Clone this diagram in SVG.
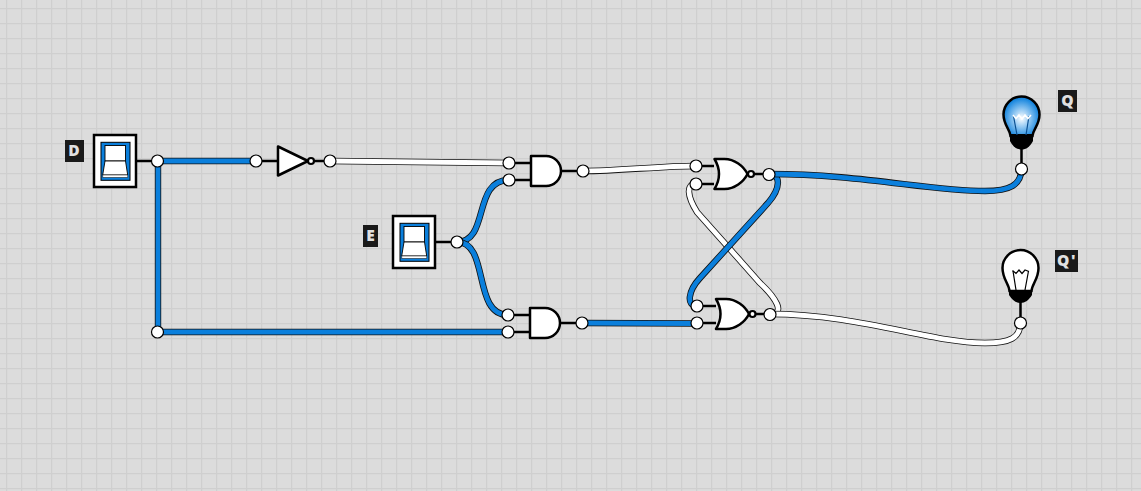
<svg xmlns="http://www.w3.org/2000/svg" width="1141" height="491" viewBox="0 0 1141 491">
<style>
.w{fill:none;stroke:#111;stroke-width:6.4;stroke-linecap:round}
.b{fill:none;stroke:#0a7fdc;stroke-width:4.8;stroke-linecap:round}
.o{fill:none;stroke:#fff;stroke-width:4.8;stroke-linecap:round}
.l{fill:none;stroke:#000;stroke-width:2.5}
.p{fill:#fff;stroke:#000;stroke-width:1.2}
.g{fill:#fff;stroke:#000;stroke-width:2.5;stroke-linejoin:round}
.lb{fill:#1a1a1a}
.t{font-family:"Open Sans",sans-serif;font-weight:800;font-size:15.500px;fill:#e0e0e0;text-anchor:middle}
.sw{fill:#fff;stroke:#000;stroke-width:2.5}
.si{fill:#0a7fdc;stroke:#000;stroke-width:1}
.sk{fill:#fff;stroke:#000;stroke-width:.9}
</style>
<defs>
<pattern id="grid" width="15" height="15" patternUnits="userSpaceOnUse" x="6" y="8">
<path d="M0.5 0V15M0 0.500H15" fill="none" stroke="#cfcfcf" stroke-width="1.500"/>
</pattern>
<radialGradient id="glow" cx="0.5" cy="0.55" r="0.62">
<stop offset="0" stop-color="#ffffff"/><stop offset="0.3" stop-color="#a5d2f5"/><stop offset="0.85" stop-color="#0a7fdc"/>
</radialGradient>
<g id="switch">
<rect class="sw" x="0" y="0" width="42" height="52"/>
<rect class="si" x="7" y="7.300" width="29" height="38"/>
<rect class="sk" x="11" y="10.500" width="20.500" height="15.500"/>
<path class="sk" d="M11 26H31.500L33.700 40H8.700Z"/>
<path class="sk" d="M8.700 40H33.700V42.500H8.700Z" style="stroke-width:.5"/>
</g>
<g id="and">
<path class="g" d="M0 0H15A15 15 0 0 1 15 30H0Z"/>
</g>
<g id="nor">
<path class="g" d="M0 0H10C20 0 29 7 33 15C29 23 20 30 10 30H0C6 20 6 10 0 0Z"/>
<circle cx="36.500" cy="15" r="3" fill="#fff" stroke="#000" stroke-width="2.200"/>
</g>
<g id="pin"><circle r="6" class="p"/></g>
</defs>
<rect width="1141" height="491" fill="#dcdcdc"/>
<rect width="1141" height="491" fill="url(#grid)"/>
<g id="connectors">
<path class="l" d="M136 161H157M256 161H280M315 161H330M509 163H530M509 180H530M435 242H457M508 315H530M508 332H530M561 171H583M561 323H582M696 166H714M696 184H714M696 306H716M697 323H716M755 174H769M755 314H770M1021.500 148V169M1020.500 302V323"/>
<path class="w" d="M158 161H256"/><path class="b" d="M158 161H256"/>
<path class="w" d="M158 161V332H508"/><path class="b" d="M158 161V332H508"/>
<path class="w" d="M330 161L509 163"/><path class="o" d="M330 161L509 163"/>
<path class="w" d="M457 242C490 242 472 180 509 180"/><path class="b" d="M457 242C490 242 472 180 509 180"/>
<path class="w" d="M457 242C490 242 472 315 508 315"/><path class="b" d="M457 242C490 242 472 315 508 315"/>
<path class="w" d="M583 171C620 171 660 166 696 166"/><path class="o" d="M583 171C620 171 660 166 696 166"/>
<path class="w" d="M582 323L697 323.500"/><path class="b" d="M582 323L697 323.500"/>
<path class="w" d="M696 184C686 184 687 196 697 212L760 283C776 298 786 314 770 314"/><path class="o" d="M696 184C686 184 687 196 697 212L760 283C776 298 786 314 770 314"/>
<path class="w" d="M769 174C781 174 781 188 768 203L700 278C688 291 686 306 697 306"/><path class="b" d="M769 174C781 174 781 188 768 203L700 278C688 291 686 306 697 306"/>
<path class="w" d="M769 174C860 174 930 191 985 191C1010 191 1021 185 1021.500 169"/><path class="b" d="M769 174C860 174 930 191 985 191C1010 191 1021 185 1021.500 169"/>
<path class="w" d="M770 314C860 314 930 343 985 343C1010 343 1020 338 1020.500 323"/><path class="o" d="M770 314C860 314 930 343 985 343C1010 343 1020 338 1020.500 323"/>
</g>
<g id="D"><rect class="lb" x="65" y="140" width="19" height="22"/><text class="t" x="74" y="156">D</text></g>
<g id="switchD"><use href="#switch" x="94" y="135"/></g>
<g id="E"><rect class="lb" x="363" y="225" width="15" height="22"/><text class="t" x="370.500" y="241">E</text></g>
<g id="switchE"><use href="#switch" x="393" y="216"/></g>
<g id="inverter"><path class="g" d="M278 146.500L308 161L278 175.500Z"/><circle cx="311" cy="161" r="3" fill="#fff" stroke="#000" stroke-width="2.200"/></g>
<g id="and1"><use href="#and" x="531" y="156"/></g>
<g id="and2"><use href="#and" x="530" y="308"/></g>
<g id="nor1"><use href="#nor" x="714.500" y="159"/></g>
<g id="nor2"><use href="#nor" x="716" y="299"/></g>
<g id="lampQ">
<path d="M1010.500 136C1010 129 1003.500 125 1003.500 114.500A18 18 0 0 1 1039.500 114.500C1039.500 125 1033 129 1032.500 136Z" fill="url(#glow)" stroke="#000" stroke-width="2.500"/>
<path d="M1010 134H1033V141C1030 147 1026 149.500 1021.500 149.500C1017 149.500 1013 147 1010 141Z" fill="#000"/>
<path d="M1013.500 116L1017 135M1029 116L1026 135" fill="none" stroke="#0a4f90" stroke-width="1.200"/>
<path d="M1013 115L1016 118.500L1019 115L1022 119L1025 115L1028 118.500L1031 115" fill="none" stroke="#fff" stroke-width="1.500"/>
</g>
<g id="lampQp">
<path d="M1009.500 291C1009 284 1002.500 279 1002.500 268A18 18 0 0 1 1038.500 268C1038.500 279 1032 284 1031.500 291Z" fill="#fff" stroke="#000" stroke-width="2.500"/>
<path d="M1009 290H1032V295C1029 300 1025 303 1020.500 303C1016 303 1012 300 1009 295Z" fill="#000"/>
<path d="M1013 271L1016 290M1028.500 271L1025 290" fill="none" stroke="#000" stroke-width="1.200"/>
<path d="M1012.500 270.500L1016 273.500L1019 270L1022 273.500L1025 270L1029 271.500" fill="none" stroke="#000" stroke-width="1.200"/>
</g>
<g id="Q"><rect class="lb" x="1058" y="90" width="19" height="22"/><text class="t" x="1067.500" y="105.500">Q</text></g>
<g id="Qp"><rect class="lb" x="1055" y="250" width="23" height="22"/><text class="t" x="1067" y="265.500" style="letter-spacing:1.500px">Q'</text></g>
<g id="pins">
<use href="#pin" x="157.500" y="161"/><use href="#pin" x="157.500" y="332"/><use href="#pin" x="256" y="161"/><use href="#pin" x="330" y="161"/>
<use href="#pin" x="509" y="163"/><use href="#pin" x="509" y="180"/><use href="#pin" x="457" y="242"/><use href="#pin" x="508" y="315"/><use href="#pin" x="508" y="332"/>
<use href="#pin" x="583" y="171"/><use href="#pin" x="582" y="323"/><use href="#pin" x="696" y="166"/><use href="#pin" x="696" y="184"/><use href="#pin" x="697" y="306"/><use href="#pin" x="697" y="323"/>
<use href="#pin" x="769" y="174.500"/><use href="#pin" x="770" y="314.500"/><use href="#pin" x="1021.500" y="169"/><use href="#pin" x="1020.500" y="323"/>
</g>
</svg>
